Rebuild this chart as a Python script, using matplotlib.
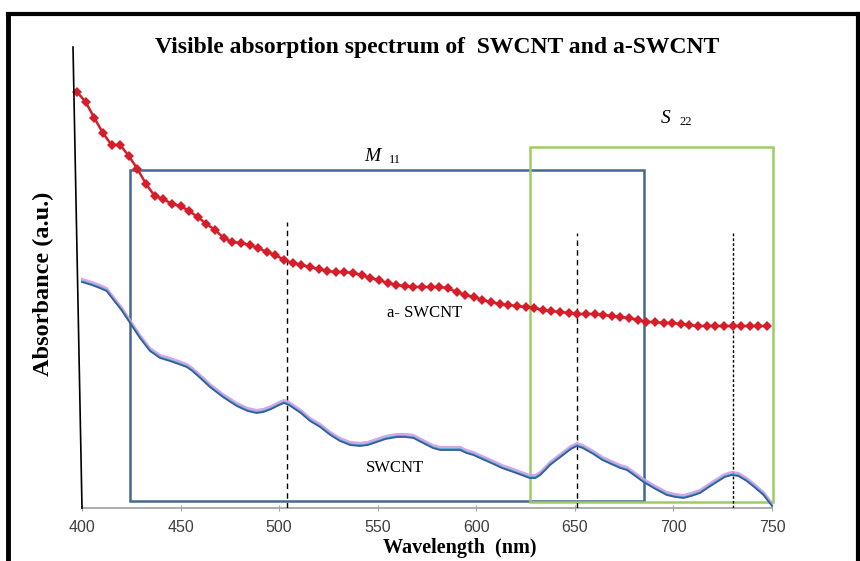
import numpy as np
import matplotlib
matplotlib.use("Agg")
import matplotlib.pyplot as plt
from matplotlib.lines import Line2D
from matplotlib.patches import Rectangle
import matplotlib.transforms as mtransforms

# ---------------- data ----------------
# a-SWCNT (red diamonds), sampled on the instrument grid
red_wavelength = np.arange(81) * 4.375 + 397.5
red_absorbance = [4.16, 4.06, 3.90, 3.75, 3.63, 3.63, 3.52, 3.39, 3.24, 3.12,
                  3.09, 3.04, 3.02, 2.97, 2.91, 2.84, 2.78, 2.70, 2.66, 2.65,
                  2.63, 2.60, 2.56, 2.53, 2.48, 2.45, 2.43, 2.41, 2.39, 2.37,
                  2.36, 2.36, 2.35, 2.33, 2.30, 2.28, 2.25, 2.23, 2.22, 2.21,
                  2.21, 2.21, 2.21, 2.20, 2.16, 2.13, 2.11, 2.08, 2.06, 2.04,
                  2.03, 2.02, 2.01, 2.00, 1.98, 1.97, 1.96, 1.95, 1.94, 1.94,
                  1.94, 1.93, 1.92, 1.91, 1.90, 1.88, 1.86, 1.86, 1.85, 1.85,
                  1.84, 1.83, 1.82, 1.82, 1.82, 1.82, 1.82, 1.82, 1.82, 1.82,
                  1.82]

# SWCNT (blue curve)
blue_wavelength = [400, 405, 409, 412.5, 416, 420, 424.4, 429.4, 434.5, 439.6,
                   444.6, 449, 453.1, 456, 460, 464.9, 471.5, 478.5, 484, 488.6,
                   492, 496, 500, 502.5, 505, 508, 511, 515.7, 520.8, 526,
                   530.9, 536, 541, 545, 549.5, 554, 559.7, 564, 568.1, 572,
                   575, 578, 581.6, 586, 591.8, 595, 598.5, 603, 608.7, 613,
                   618.8, 623, 627, 630, 632.4, 635, 637.4, 640, 644, 648,
                   651, 654, 659.4, 664, 669.6, 673, 676.4, 680, 684.8, 690,
                   696.6, 701, 705.1, 709, 713.5, 718, 722, 726, 729.6, 733,
                   737.2, 741, 745.7, 750]
blue_absorbance = [2.26, 2.23, 2.20, 2.17, 2.08, 1.98, 1.85, 1.70, 1.57, 1.50,
                   1.47, 1.44, 1.41, 1.37, 1.30, 1.21, 1.11, 1.02, 0.97, 0.95,
                   0.96, 0.99, 1.03, 1.05, 1.03, 0.99, 0.95, 0.87, 0.81, 0.73,
                   0.67, 0.63, 0.62, 0.63, 0.66, 0.69, 0.71, 0.71, 0.70, 0.66,
                   0.63, 0.60, 0.58, 0.58, 0.58, 0.55, 0.53, 0.49, 0.44, 0.40,
                   0.36, 0.33, 0.30, 0.30, 0.33, 0.38, 0.43, 0.47, 0.53, 0.59,
                   0.62, 0.60, 0.54, 0.48, 0.43, 0.40, 0.38, 0.33, 0.26, 0.20,
                   0.13, 0.11, 0.10, 0.12, 0.15, 0.21, 0.26, 0.31, 0.33, 0.32,
                   0.27, 0.21, 0.13, 0.02]

x_ticks = [400, 450, 500, 550, 600, 650, 700, 750]
peak_lines = [504, 651, 730]

# ---------------- figure ----------------
W, H = 860, 561
fig = plt.figure(figsize=(W / 100, H / 100), dpi=100)
fig.patch.set_facecolor("white")

def fx(px):
    return px / W

def fy(py):
    return 1 - py / H

ax = fig.add_axes([fx(82), fy(508), fx(772) - fx(82), fy(48) - fy(508)])
ax.set_xlim(400, 750)
ax.set_ylim(0, 4.6)
ax.patch.set_alpha(0)

for s in ["top", "right", "left"]:
    ax.spines[s].set_visible(False)
ax.spines["bottom"].set_color("#a6a6a6")
ax.spines["bottom"].set_linewidth(1.3)
ax.set_yticks([])
ax.set_xticks(x_ticks)
ax.tick_params(axis="x", direction="inout", length=5, color="#a6a6a6",
               labelsize=11.5, labelcolor="#404040", pad=6)
for lab in ax.get_xticklabels():
    lab.set_fontfamily("Liberation Sans")

# boxes
ax.add_patch(Rectangle((424.4, 0.073), 685 - 424.4, 3.375 - 0.073, fill=False,
                       edgecolor="#44688e", linewidth=1.8, zorder=2, clip_on=False))
ax.add_patch(Rectangle((627.3, 0.065), 750.4 - 627.3, 3.61 - 0.065, fill=False,
                       edgecolor="#9ccc68", linewidth=1.8, zorder=2, clip_on=False))

# dashed peak markers
tops = [2.86, 2.75, 2.75]
for xv, t, ls in zip(peak_lines, tops, [(0, (4, 3)), (0, (4, 3)), (0, (2, 1.5))]):
    ax.plot([xv, xv], [0, t], color="black", linewidth=1.0, linestyle=ls, zorder=3)

# SWCNT curves (three overlapping traces)
up2 = mtransforms.offset_copy(ax.transData, fig=fig, x=0, y=3, units="dots")
up1 = mtransforms.offset_copy(ax.transData, fig=fig, x=0, y=1, units="dots")
ax.plot(blue_wavelength, blue_absorbance, color="#d59be6", linewidth=1.6,
        transform=up2, zorder=4, alpha=0.9, clip_on=False)
ax.plot(blue_wavelength, blue_absorbance, color="#5bb2d6", linewidth=1.4,
        transform=up1, zorder=4, clip_on=False)
ax.plot(blue_wavelength, blue_absorbance, color="#3a5a9a", linewidth=1.3, zorder=5,
        clip_on=False)

# a-SWCNT
ax.plot(red_wavelength, red_absorbance, color="#d51e2a", linewidth=1.8,
        marker="D", markersize=4.6, markeredgewidth=0, zorder=6, clip_on=False)

# labels inside
serif = "Liberation Serif"
ax.text(547.1, 3.51, "M", fontsize=14, fontstyle="italic", family=serif,
        ha="center", va="center")
ax.text(558.5, 3.48, "11", fontsize=9, family=serif, ha="center", va="center")
ax.text(696.3, 3.89, "S", fontsize=14, fontstyle="italic", family=serif,
        ha="center", va="center")
ax.text(706, 3.86, "22", fontsize=9, family=serif, ha="center", va="center")
ax.text(574.0, 1.95, "a- SWCNT", fontsize=12, family=serif, ha="center", va="center")
ax.text(558.8, 0.40, "SWCNT", fontsize=12, family=serif, ha="center", va="center")

# slanted y axis line
fig.add_artist(Line2D([fx(73), fx(82)], [fy(47), fy(508)], color="black",
                      linewidth=1.2))

# titles
fig.text(fx(437), fy(48), "Visible absorption spectrum of  SWCNT and a-SWCNT",
         fontsize=17, fontweight="bold", family=serif, ha="center", va="center")
fig.text(fx(460), fy(548), "Wavelength  (nm)", fontsize=14.5, fontweight="bold",
         family=serif, ha="center", va="center")
fig.text(fx(43), fy(284), "Absorbance (a.u.)", fontsize=17.5, fontweight="bold",
         family=serif, ha="center", va="center", rotation=90)

# outer black frame
fig.add_artist(Line2D([fx(8), fx(8)], [fy(14), fy(565)], color="black", linewidth=3.5))
fig.add_artist(Line2D([fx(8), fx(858)], [fy(14), fy(14)], color="black", linewidth=3))
fig.add_artist(Line2D([fx(858), fx(858)], [fy(14), fy(565)], color="black", linewidth=3))

fig.savefig("out.png", dpi=100)
